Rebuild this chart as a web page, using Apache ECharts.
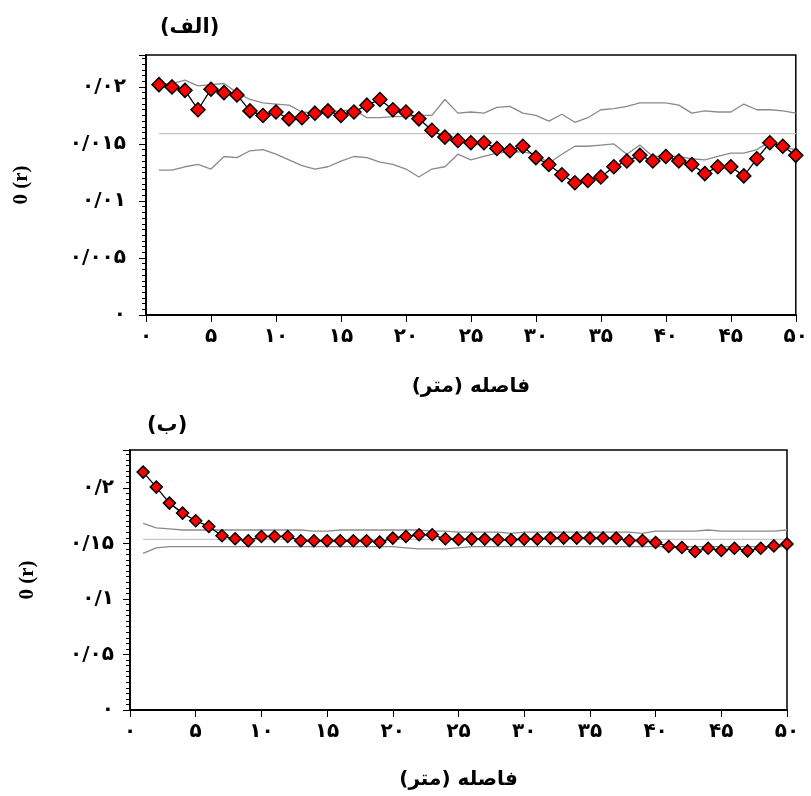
<!DOCTYPE html>
<html>
<head>
<meta charset="utf-8">
<script src="https://cdn.jsdelivr.net/npm/echarts@6/dist/echarts.min.js"></script>
<style>
  html, body { margin: 0; padding: 0; background: #fff; }
  #chart { width: 811px; height: 796px; }
</style>
</head>
<body>
<div id="chart"></div>
<script>
// lag distance (m)
const lags = [1,2,3,4,5,6,7,8,9,10,11,12,13,14,15,16,17,18,19,20,21,22,23,24,25,
  26,27,28,29,30,31,32,33,34,35,36,37,38,39,40,41,42,43,44,45,46,47,48,49,50];

// (الف)
const topTheta = [0.0202,0.0200,0.0197,0.0180,0.0198,0.0195,0.0193,0.0179,0.0175,0.0178,
  0.0172,0.0173,0.0177,0.0179,0.0175,0.0178,0.0184,0.0189,0.0180,0.0178,
  0.0172,0.0162,0.0156,0.0153,0.0151,0.0151,0.0146,0.0144,0.0148,0.0138,
  0.0132,0.0123,0.0116,0.0118,0.0121,0.0130,0.0135,0.0140,0.0135,0.0139,
  0.0135,0.0132,0.0124,0.0130,0.0130,0.0122,0.0137,0.0151,0.0148,0.0140];
const topUpper = [0.0202,0.0203,0.0206,0.0201,0.0202,0.0203,0.0195,0.0189,0.0186,0.0185,
  0.0184,0.0178,0.0177,0.0178,0.0179,0.0180,0.0173,0.0173,0.0174,0.0174,
  0.0175,0.0175,0.0189,0.0177,0.0178,0.0177,0.0182,0.0183,0.0177,0.0175,
  0.0170,0.0176,0.0169,0.0173,0.0180,0.0181,0.0183,0.0186,0.0186,0.0186,
  0.0184,0.0177,0.0179,0.0178,0.0178,0.0185,0.0180,0.0180,0.0179,0.0177];
const topLower = [0.0127,0.0127,0.0130,0.0132,0.0128,0.0139,0.0138,0.0144,0.0145,0.0141,
  0.0136,0.0131,0.0128,0.0130,0.0135,0.0139,0.0138,0.0134,0.0132,0.0128,
  0.0121,0.0128,0.0130,0.0141,0.0136,0.0139,0.0142,0.0143,0.0143,0.0141,
  0.0133,0.0141,0.0148,0.0148,0.0149,0.0150,0.0141,0.0149,0.0139,0.0139,
  0.0139,0.0137,0.0136,0.0139,0.0142,0.0142,0.0145,0.0152,0.0147,0.0145];
const topMean = 0.0159;
const topYTicks = [0, 0.005, 0.01, 0.015, 0.02];

// (ب)
const botTheta = [0.2141,0.2006,0.1862,0.1772,0.1703,0.1652,0.1568,0.1541,0.1523,0.1562,
  0.1562,0.1562,0.1523,0.1523,0.1523,0.1523,0.1523,0.1523,0.1511,0.1547,
  0.1562,0.1577,0.1577,0.1541,0.1535,0.1538,0.1538,0.1532,0.1532,0.1538,
  0.1538,0.1547,0.1547,0.1547,0.1547,0.1547,0.1547,0.1525,0.1525,0.1508,
  0.1471,0.1462,0.1426,0.1456,0.1435,0.1456,0.1432,0.1456,0.1477,0.1495];
const botUpper = [0.168,0.164,0.163,0.162,0.162,0.162,0.162,0.162,0.162,0.162,
  0.162,0.162,0.162,0.161,0.161,0.162,0.162,0.162,0.162,0.162,
  0.162,0.162,0.161,0.161,0.160,0.160,0.160,0.160,0.159,0.160,
  0.160,0.160,0.160,0.160,0.160,0.160,0.160,0.160,0.159,0.161,
  0.161,0.161,0.161,0.162,0.161,0.161,0.161,0.161,0.161,0.162];
const botLower = [0.141,0.146,0.147,0.147,0.147,0.147,0.147,0.147,0.147,0.147,
  0.147,0.147,0.147,0.147,0.147,0.147,0.147,0.147,0.147,0.147,
  0.146,0.145,0.145,0.145,0.146,0.147,0.147,0.147,0.147,0.147,
  0.147,0.147,0.147,0.147,0.147,0.147,0.147,0.147,0.147,0.147,
  0.147,0.147,0.147,0.147,0.147,0.147,0.147,0.147,0.147,0.147];
const botMean = 0.1535;
const botYTicks = [0, 0.05, 0.1, 0.15, 0.2];

const xTicks = [0,5,10,15,20,25,30,35,40,45,50];
const titles = ['(الف)', '(ب)'];
const xName = 'فاصله (متر)';
const yName = '0 (r)';

const faDigits = '۰۱۲۳۴۵۶۷۸۹';
function toFa(v) {
  let s = String(parseFloat(Number(v).toFixed(5)));
  return s.replace(/[0-9]/g, d => faDigits[+d]).replace('.', '/');
}

const faFont = "'DejaVu Sans', sans-serif";
const chart = echarts.init(document.getElementById('chart'));

function pairs(vals) { return lags.map((l, i) => [l, vals[i]]); }

function xAxis(gi) {
  return {
    type: 'value', gridIndex: gi, min: 0, max: 50, interval: 5,
    name: xName, nameLocation: 'middle', nameGap: gi === 0 ? 62 : 60,
    nameTextStyle: { fontFamily: faFont, fontSize: 20, fontWeight: 'bold', color: '#000' },
    axisLine: { lineStyle: { color: '#000', width: 2 } },
    axisTick: { inside: false, length: 7, lineStyle: { color: '#000' } },
    axisLabel: { margin: 12, fontFamily: faFont, fontSize: 20, fontWeight: 'bold', color: '#000',
      formatter: v => xTicks.indexOf(v) >= 0 ? toFa(v) : '' },
    splitLine: { show: false }
  };
}

function yAxis(gi, max, interval, ticks, gap) {
  return {
    type: 'value', gridIndex: gi, min: 0, max: max, interval: interval,
    name: yName, nameLocation: 'middle', nameRotate: 90, nameGap: gap,
    nameTextStyle: { fontFamily: "'Liberation Serif', serif", fontSize: 21, fontWeight: 'bold', color: '#000' },
    axisLine: { lineStyle: { color: '#000', width: 2 } },
    axisTick: { inside: false, length: 7, lineStyle: { color: '#000' } },
    minorTick: { show: true, splitNumber: 10, length: 4, lineStyle: { color: '#000' } },
    axisLabel: { margin: gi === 0 ? 20 : 16, fontFamily: faFont, fontSize: 20, fontWeight: 'bold', color: '#000',
      showMaxLabel: false,
      formatter: v => ticks.some(t => Math.abs(t - v) < 1e-9) ? toFa(v) : '' },
    splitLine: { show: false }
  };
}

function greyLine(gi, data, color) {
  return { type: 'line', xAxisIndex: gi, yAxisIndex: gi, data: data, symbol: 'none',
    lineStyle: { color: color, width: 1.3 }, z: 2, silent: true };
}

function thetaLine(gi, vals, size) {
  return { type: 'line', xAxisIndex: gi, yAxisIndex: gi, data: pairs(vals),
    symbol: 'diamond', symbolSize: size, showAllSymbol: true,
    itemStyle: { color: '#ff0000', borderColor: '#000', borderWidth: 1.5 },
    lineStyle: { color: '#000', width: 1.3 }, z: 5 };
}

const option = {
  animation: false,
  backgroundColor: '#fff',
  title: [
    { text: titles[0], left: 155, top: 12, textStyle: { fontFamily: faFont, fontSize: 21, fontWeight: 'bold', color: '#000' } },
    { text: titles[1], left: 142, top: 410, textStyle: { fontFamily: faFont, fontSize: 21, fontWeight: 'bold', color: '#000' } }
  ],
  grid: [
    { left: 146, top: 55, right: 11, bottom: 481, show: true, borderColor: '#000', borderWidth: 1.5, backgroundColor: 'transparent' },
    { left: 130, top: 450, right: 24, bottom: 86, show: true, borderColor: '#000', borderWidth: 1.5, backgroundColor: 'transparent' }
  ],
  xAxis: [xAxis(0), xAxis(1)],
  yAxis: [
    yAxis(0, 0.0228, 0.005, topYTicks, 114),
    yAxis(1, 0.234, 0.05, botYTicks, 92)
  ],
  series: [
    greyLine(0, [[1, topMean], [50, topMean]], '#c4c4c4'),
    greyLine(0, pairs(topUpper), '#8a8a8a'),
    greyLine(0, pairs(topLower), '#8a8a8a'),
    thetaLine(0, topTheta, 14),
    greyLine(1, [[1, botMean], [50, botMean]], '#c4c4c4'),
    greyLine(1, pairs(botUpper), '#8a8a8a'),
    greyLine(1, pairs(botLower), '#8a8a8a'),
    thetaLine(1, botTheta, 12)
  ]
};
chart.setOption(option);
</script>
</body>
</html>
